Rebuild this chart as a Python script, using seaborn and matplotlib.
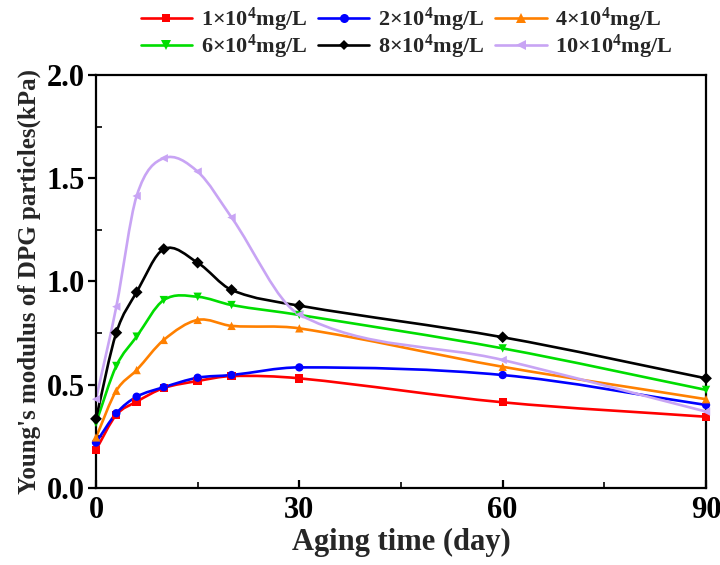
import numpy as np
import pandas as pd
import matplotlib
matplotlib.use("Agg")
import matplotlib.pyplot as plt
from matplotlib.path import Path
from matplotlib.patches import PathPatch
from matplotlib.lines import Line2D
import seaborn as sns

days = [0, 3, 6, 10, 15, 20, 30, 60, 90]
c1 = [0.185, 0.354, 0.418, 0.484, 0.518, 0.542, 0.531, 0.415, 0.345]
c2 = [0.220, 0.362, 0.442, 0.488, 0.534, 0.547, 0.584, 0.547, 0.402]
c4 = [0.245, 0.471, 0.571, 0.717, 0.814, 0.785, 0.773, 0.587, 0.430]
c6 = [0.315, 0.591, 0.733, 0.910, 0.926, 0.886, 0.838, 0.676, 0.475]
c8 = [0.335, 0.752, 0.948, 1.157, 1.091, 0.959, 0.883, 0.730, 0.531]
c10 = [0.430, 0.878, 1.414, 1.597, 1.532, 1.310, 0.840, 0.620, 0.370]

labels = [r"1×10$^{4}$mg/L", r"2×10$^{4}$mg/L", r"4×10$^{4}$mg/L",
          r"6×10$^{4}$mg/L", r"8×10$^{4}$mg/L", r"10×10$^{4}$mg/L"]
series = [c1, c2, c4, c6, c8, c10]
colors = ["#FF0000", "#0000FF", "#FF8000", "#00DD00", "#000000", "#C8A4F4"]
markers = ["s", "o", "^", "v", "D", "<"]
msizes = [5.5, 6.5, 6.5, 6.5, 5.5, 6.5]

sns.set_theme(style="ticks")
plt.rcParams["font.family"] = ["Liberation Serif", "DejaVu Serif"]
plt.rcParams["font.weight"] = "bold"
plt.rcParams["mathtext.fontset"] = "custom"
plt.rcParams["mathtext.rm"] = "Liberation Serif:bold"
plt.rcParams["mathtext.it"] = "Liberation Serif:bold"
plt.rcParams["mathtext.bf"] = "Liberation Serif:bold"

rows = []
for lab, s in zip(labels, series):
    for d, v in zip(days, s):
        rows.append({"day": d, "value": v, "conc": lab})
df = pd.DataFrame(rows)

fig = plt.figure(figsize=(7.2, 5.65), dpi=100)
ax = fig.add_axes([0.1333, 0.1363, 0.8473, 0.731])


def spline_path(x, y):
    """Cubic Hermite (Catmull-Rom style) curve through the data points."""
    x = np.asarray(x, float)
    y = np.asarray(y, float)
    n = len(x)
    h = np.diff(x)
    m = np.zeros(n)
    m[0] = (y[1] - y[0]) / h[0]
    m[-1] = (y[-1] - y[-2]) / h[-1]
    for i in range(1, n - 1):
        m[i] = (y[i + 1] - y[i - 1]) / (x[i + 1] - x[i - 1])
    verts = [(x[0], y[0])]
    codes = [Path.MOVETO]
    for i in range(n - 1):
        verts += [(x[i] + h[i] / 3, y[i] + h[i] * m[i] / 3),
                  (x[i + 1] - h[i] / 3, y[i + 1] - h[i] * m[i + 1] / 3),
                  (x[i + 1], y[i + 1])]
        codes += [Path.CURVE4] * 3
    return Path(verts, codes)


for lab, s, col in zip(labels, series, colors):
    patch = PathPatch(spline_path(days, s), facecolor="none", edgecolor=col,
                      lw=1.9, zorder=2, clip_on=False)
    ax.add_patch(patch)

sns.scatterplot(data=df, x="day", y="value", hue="conc", style="conc",
                palette=dict(zip(labels, colors)),
                markers=dict(zip(labels, markers)), s=36, linewidth=0,
                legend=False, ax=ax, zorder=3, clip_on=False)

ax.set_xlim(0, 90)
ax.set_ylim(0, 2.0)
ax.set_xticks([0, 30, 60, 90])
ax.set_xticks([15, 45, 75], minor=True)
ax.set_yticks([0.0, 0.5, 1.0, 1.5, 2.0])
ax.set_yticks([0.25, 0.75, 1.25, 1.75], minor=True)
ax.set_yticklabels(["0.0", "0.5", "1.0", "1.5", "2.0"])
for sp in ax.spines.values():
    sp.set_linewidth(1.6)
    sp.set_color("black")
ax.tick_params(axis="y", which="major", direction="out", length=6, width=1.6,
               labelsize=22, pad=2, colors="black")
ax.tick_params(axis="y", which="minor", direction="in", length=4, width=1.4)
ax.tick_params(axis="x", which="major", direction="in", length=6, width=1.6,
               labelsize=22, pad=6, colors="black")
ax.tick_params(axis="x", which="minor", direction="in", length=4, width=1.4)
for t in ax.get_xticklabels() + ax.get_yticklabels():
    t.set_fontweight("bold")

ax.set_xlabel("Aging time (day)", fontsize=22, fontweight="bold", labelpad=2)
ax.set_ylabel("Young's modulus of DPG particles(kPa)", fontsize=18,
              fontweight="bold", labelpad=4)

handles = [Line2D([0], [0], color=c, lw=1.9, marker=mk, markersize=ms,
                  markeredgewidth=0)
           for c, mk, ms in zip(colors, markers, msizes)]
order = [0, 3, 1, 4, 2, 5]
fig.legend([handles[i] for i in order], [labels[i] for i in order],
           loc="upper center", bbox_to_anchor=(0.565, 1.025),
           ncol=3, frameon=False, handlelength=2.3,
           handletextpad=0.4, columnspacing=0.5, labelspacing=-0.05,
           prop={"family": "Liberation Serif", "weight": "bold", "size": 16})

fig.savefig("out.png", dpi=100)
